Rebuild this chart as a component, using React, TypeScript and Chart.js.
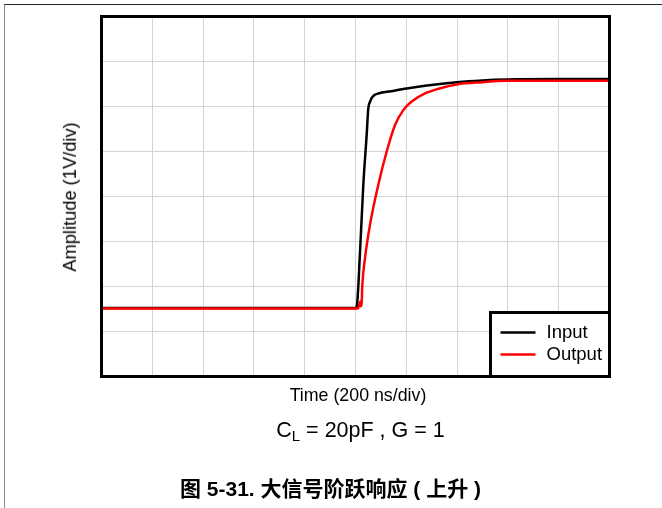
import React, { useEffect, useRef } from "react";
import { Chart, registerables } from "chart.js";

Chart.register(...registerables);

// Time in divisions (200 ns/div), amplitude in divisions (1 V/div)
const inputTime = [0, 5.0, 5.024, 5.089, 5.154, 5.22, 5.252, 5.285, 5.319, 5.38, 5.449, 5.7, 6.008, 6.368, 6.992, 7.5, 7.976, 9, 10];
const inputAmp = [1.52, 1.52, 1.55, 2.77, 4.26, 5.37, 5.96, 6.1, 6.19, 6.26, 6.29, 6.34, 6.4, 6.46, 6.54, 6.58, 6.6, 6.61, 6.61];

const outputTime = [0, 5.05, 5.075, 5.09, 5.105, 5.12, 5.134, 5.187, 5.285, 5.449, 5.614, 5.778, 5.941, 6.106, 6.368, 6.65, 6.992, 7.5, 7.976, 9, 10];
const outputAmp = [1.51, 1.51, 1.6, 1.66, 1.56, 1.62, 2.03, 2.63, 3.37, 4.26, 5.0, 5.59, 5.92, 6.11, 6.29, 6.4, 6.49, 6.54, 6.57, 6.57, 6.57];

const seriesLabels = ["Input", "Output"];
const seriesColors = ["#000000", "#ff0000"];

const xDivs = 10;
const yDivs = 8;

const xTitle = "Time (200 ns/div)";
const yTitle = "Amplitude (1V/div)";
const captionText = "图 5-31. 大信号阶跃响应 ( 上升 )";

const FONT = '"Liberation Sans", Arial, sans-serif';

const framePlugin = {
  id: "framePlugin",
  afterDraw(chart: any) {
    const { ctx, chartArea } = chart;
    const { left, top, right, bottom } = chartArea;
    ctx.save();
    // legend box
    const bw = 119;
    const bh = 64;
    const bx = right - bw;
    const by = bottom - bh;
    ctx.fillStyle = "#ffffff";
    ctx.fillRect(bx, by, bw, bh);
    ctx.strokeStyle = "#000";
    ctx.lineWidth = 3;
    ctx.strokeRect(bx, by, bw, bh);
    const ds = chart.data.datasets;
    ds.forEach((d: any, i: number) => {
      const ly = by + 20 + i * 22;
      ctx.strokeStyle = d.borderColor;
      ctx.lineWidth = 2.5;
      ctx.beginPath();
      ctx.moveTo(bx + 10, ly);
      ctx.lineTo(bx + 45, ly);
      ctx.stroke();
      ctx.fillStyle = "#000";
      ctx.font = `18.5px ${FONT}`;
      ctx.textBaseline = "middle";
      ctx.textAlign = "left";
      ctx.fillText(d.label, bx + 56, ly);
    });
    // plot border
    ctx.strokeStyle = "#000";
    ctx.lineWidth = 3;
    ctx.strokeRect(left, top, right - left, bottom - top);
    ctx.restore();
  },
};

export default function App() {
  const canvasRef = useRef<HTMLCanvasElement | null>(null);

  useEffect(() => {
    if (!canvasRef.current) return;
    const chart = new Chart(canvasRef.current, {
      type: "line",
      data: {
        datasets: [
          {
            label: seriesLabels[0],
            data: inputTime.map((t, i) => ({ x: t, y: inputAmp[i] })),
            borderColor: seriesColors[0],
            borderWidth: 2.5,
            pointRadius: 0,
            cubicInterpolationMode: "monotone",
            fill: false,
            order: 1,
          },
          {
            label: seriesLabels[1],
            data: outputTime.map((t, i) => ({ x: t, y: outputAmp[i] })),
            borderColor: seriesColors[1],
            borderWidth: 2.5,
            pointRadius: 0,
            cubicInterpolationMode: "monotone",
            fill: false,
            order: 0,
          },
        ],
      },
      options: {
        responsive: false,
        maintainAspectRatio: false,
        animation: false,
        devicePixelRatio: 1,
        layout: { padding: { left: 101.5, top: 16.5, right: 52.5, bottom: 131.5 } },
        scales: {
          x: {
            type: "linear",
            min: 0,
            max: xDivs,
            ticks: { display: false, stepSize: 1 },
            grid: { color: "#d4d4d4", lineWidth: 1, drawTicks: false },
            border: { display: false },
            afterFit: (s: any) => {
              s.height = 0;
            },
          },
          y: {
            type: "linear",
            min: 0,
            max: yDivs,
            ticks: { display: false, stepSize: 1 },
            grid: { color: "#d4d4d4", lineWidth: 1, drawTicks: false },
            border: { display: false },
            afterFit: (s: any) => {
              s.width = 0;
            },
          },
        },
        plugins: {
          legend: { display: false },
          tooltip: { enabled: false },
        },
      },
      plugins: [framePlugin],
    } as any);
    return () => chart.destroy();
  }, []);

  const textBase: React.CSSProperties = {
    position: "absolute",
    whiteSpace: "nowrap",
    color: "#000",
    fontFamily: FONT,
    lineHeight: 1,
  };

  return (
    <div
      style={{
        position: "absolute",
        left: 0,
        top: 0,
        width: 662,
        height: 508,
        background: "#fff",
        overflow: "hidden",
      }}
    >
      <div
        style={{
          position: "absolute",
          left: 4,
          top: 4,
          right: 0,
          bottom: 0,
          borderTop: "1px solid #222",
          borderLeft: "1px solid #888",
        }}
      />
      <canvas
        ref={canvasRef}
        width={662}
        height={508}
        style={{ position: "absolute", left: 0, top: 0, width: 662, height: 508 }}
      />
      <div
        style={{
          ...textBase,
          left: 70,
          top: 196.5,
          fontSize: 18.3,
          transform: "translate(-50%, -50%) rotate(-90deg)",
        }}
      >
        {yTitle}
      </div>
      <div
        style={{
          ...textBase,
          left: 358,
          top: 396,
          fontSize: 17.8,
          transform: "translate(-50%, -50%)",
        }}
      >
        {xTitle}
      </div>
      <div
        style={{
          ...textBase,
          left: 360.5,
          top: 431,
          fontSize: 21.5,
          transform: "translate(-50%, -50%)",
        }}
      >
        C<sub style={{ fontSize: 15, verticalAlign: "-4px", lineHeight: 1 }}>L</sub> = 20pF , G = 1
      </div>
      <div
        style={{
          ...textBase,
          left: 180,
          top: 488,
          fontSize: 21,
          fontWeight: "bold",
          fontFamily: '"Liberation Sans", Arial, "Noto Sans CJK SC", sans-serif',
          transform: "translateY(-50%)",
        }}
      >
        {captionText}
      </div>
    </div>
  );
}
